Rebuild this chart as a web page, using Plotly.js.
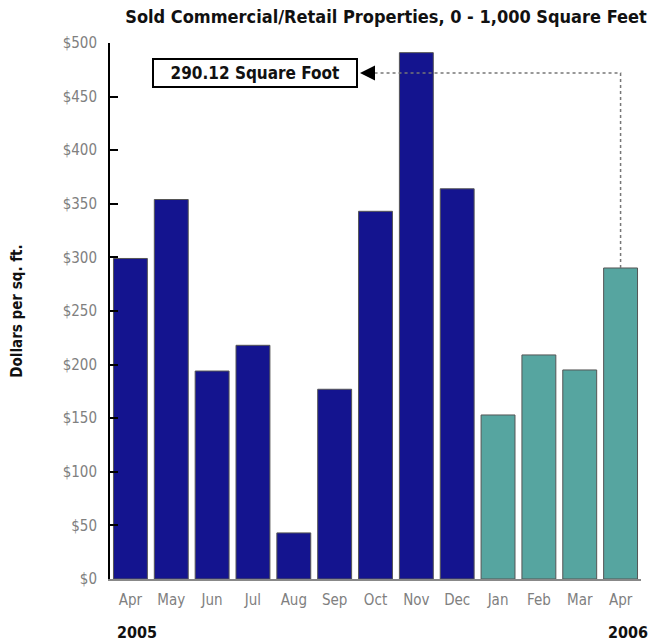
<!DOCTYPE html>
<html>
<head>
<meta charset="utf-8">
<script src="https://cdn.plot.ly/plotly-3.0.1.min.js"></script>
<style>html,body{margin:0;padding:0;background:#fff;}#chart{width:652px;height:641px;}</style>
</head>
<body>
<div id="chart"></div>
<script>
const months = ["Apr","May","Jun","Jul","Aug","Sep","Oct","Nov","Dec","Jan","Feb","Mar","Apr"];
const values = [299, 354, 194, 218, 43, 177, 343, 491, 364, 153, 209, 195, 290.12];
const periodColors = ["#14148f","#14148f","#14148f","#14148f","#14148f","#14148f","#14148f","#14148f","#14148f","#56a5a0","#56a5a0","#56a5a0","#56a5a0"];
const yTickVals = [0,50,100,150,200,250,300,350,400,450,500];
const yTickText = ["$0","$50","$100","$150","$200","$250","$300","$350","$400","$450","$500"];
const yearLabels = ["2005","2006"];
const titleText = "Sold Commercial/Retail Properties, 0 - 1,000 Square Feet";
const yTitle = "Dollars per sq. ft.";
const calloutText = "290.12 Square Foot";

const idx = months.map((m,i)=>i);
const lastIdx = idx[idx.length-1];
const calloutY = 472;
const FONT = "DejaVu Sans Condensed, sans-serif";

const trace = {
  type: "bar",
  x: idx,
  y: values,
  marker: {color: periodColors, line: {color: "#555", width: 1}},
  width: 0.83,
  hoverinfo: "skip"
};

const layout = {
  width: 652, height: 641,
  margin: {l: 110, r: 11, t: 43, b: 62},
  paper_bgcolor: "#fff", plot_bgcolor: "#fff",
  showlegend: false,
  title: {text: titleText, font: {family: FONT, size: 18, color: "#111", weight: "bold"},
          x: 386/652, xref: "container", xanchor: "center", y: 1-17/641, yref: "container", yanchor: "middle"},
  xaxis: {
    range: [-0.5, 12.5], tickvals: idx, ticktext: months,
    showgrid: false, zeroline: false, showline: true, linecolor: "#888", linewidth: 2,
    ticks: "", ticklabelstandoff: 6, tickfont: {family: FONT, size: 15, color: "#808080"}, fixedrange: true
  },
  yaxis: {
    range: [0, 500], tickvals: yTickVals, ticktext: yTickText,
    showgrid: false, zeroline: false, showline: true, linecolor: "#000", linewidth: 2,
    ticks: "inside", ticklen: 8, tickwidth: 2, tickcolor: "#000", ticklabelstandoff: 8,
    tickfont: {family: FONT, size: 15, color: "#808080"},
    title: {text: yTitle, font: {family: FONT, size: 15, color: "#111", weight: "bold"}, standoff: 36},
    fixedrange: true
  },
  shapes: [
    {type: "path", xref: "x", yref: "y",
     path: `M ${lastIdx} ${values[lastIdx]} L ${lastIdx} ${calloutY} L 5.75 ${calloutY}`,
     line: {color: "#777", width: 1.5, dash: "dot"}}
  ],
  annotations: [
    {x: 5.57, y: calloutY, xref: "x", yref: "y", xanchor: "right", yanchor: "middle",
     text: "<b>" + calloutText + "</b>", showarrow: false,
     font: {family: FONT, size: 17, color: "#111"},
     bgcolor: "#fff", bordercolor: "#000", borderwidth: 2, borderpad: 3, width: 196, height: 20, align: "center"},
    {x: 5.62, y: calloutY, xref: "x", yref: "y", ax: 5.95, ay: calloutY, axref: "x", ayref: "y",
     text: "", showarrow: true, arrowhead: 2, arrowsize: 2, arrowwidth: 1.5, arrowcolor: "#000"},
    {x: (115-110)/531, y: (579-632)/536, xref: "paper", yref: "paper", xanchor: "left", yanchor: "middle",
     text: "<b>" + yearLabels[0] + "</b>", showarrow: false, font: {family: FONT, size: 16, color: "#111"}},
    {x: (650-110)/531, y: (579-632)/536, xref: "paper", yref: "paper", xanchor: "right", yanchor: "middle",
     text: "<b>" + yearLabels[1] + "</b>", showarrow: false, font: {family: FONT, size: 16, color: "#111"}}
  ]
};

Plotly.newPlot("chart", [trace], layout, {displayModeBar: false, staticPlot: true});
</script>
</body>
</html>
